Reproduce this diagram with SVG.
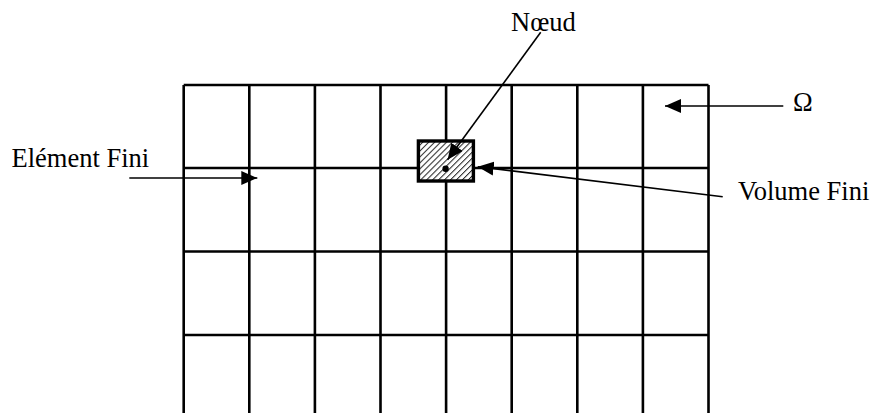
<svg xmlns="http://www.w3.org/2000/svg" width="876" height="413" viewBox="0 0 876 413">
<style>
.grid{stroke:#000;stroke-width:2.6;fill:none}
.conn{stroke:#000;stroke-width:1.6;fill:none}
.lbl{font-family:"Liberation Serif","Times New Roman",serif;font-size:26.5px;fill:#000}
</style>
<defs>
<pattern id="hatch" width="4.2" height="4.2" patternUnits="userSpaceOnUse" patternTransform="rotate(45)">
<rect width="4.2" height="4.2" fill="#fff"/>
<line x1="0" y1="0" x2="0" y2="4.2" stroke="#222" stroke-width="2"/>
</pattern>
<marker id="ah" markerUnits="userSpaceOnUse" markerWidth="17" markerHeight="15" refX="16" refY="7" orient="auto">
<path d="M0,0 L16,7 L0,14 z" fill="#000"/>
</marker>
</defs>
<rect width="876" height="413" fill="#fff"/>
<g id="mesh" class="grid">
<path d="M183.7,85 H708.5 M183.7,168 H708.5 M183.7,251.5 H708.5 M183.7,335 H708.5"/>
<path d="M183.7,85 V413 M249.3,85 V413 M314.9,85 V413 M380.5,85 V413 M446.1,85 V413 M511.7,85 V413 M577.3,85 V413 M642.9,85 V413 M708.5,85 V413"/>
</g>
<g id="volume-fini">
<rect x="418.4" y="141" width="55" height="40" fill="url(#hatch)" stroke="#000" stroke-width="3.4"/>
</g>
<g id="noeud">
<circle cx="445.6" cy="168.8" r="3.2" fill="#000"/>
</g>
<g id="connectors" class="conn">
<line x1="540.7" y1="32.3" x2="447.6" y2="159.8" marker-end="url(#ah)"/>
<line x1="722.7" y1="196.7" x2="477.7" y2="166.7" marker-end="url(#ah)"/>
<line x1="129.3" y1="178" x2="257.3" y2="178" marker-end="url(#ah)"/>
<line x1="783.3" y1="106" x2="665" y2="106" marker-end="url(#ah)"/>
</g>
<g id="labels">
<text class="lbl" x="511" y="30.5">Nœud</text>
<text class="lbl" x="11.5" y="166.5">Elément Fini</text>
<text class="lbl" x="738" y="199.5">Volume Fini</text>
<text class="lbl" x="793" y="111">Ω</text>
</g>
</svg>
